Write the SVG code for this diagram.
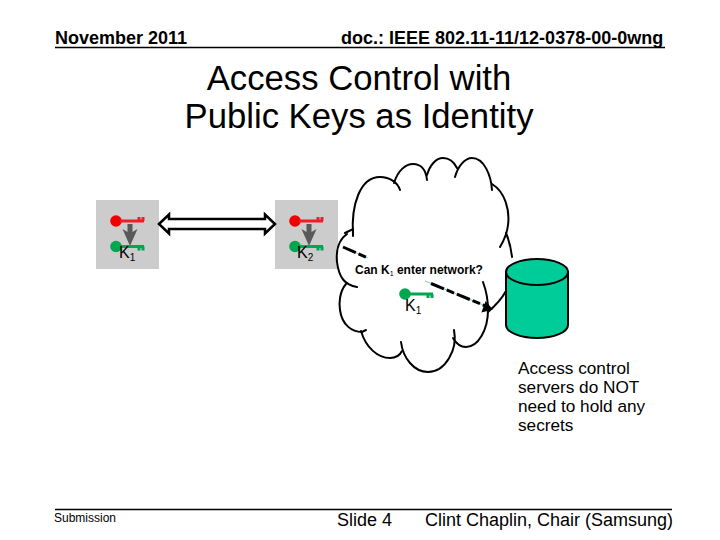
<svg xmlns="http://www.w3.org/2000/svg" width="720" height="540" viewBox="0 0 720 540">
<style>
text{font-family:"Liberation Sans",Arial,sans-serif;fill:#000}
.h{font-size:18px;font-weight:bold}
.t{font-size:34.700px;text-anchor:middle}
.b{font-size:17.200px}
.f{font-size:18px}
.k{font-size:16px}
.s{font-size:10px}
.tile{fill:#cccccc}
.cloud{fill:none;stroke:#000;stroke-width:2;stroke-linecap:round}
.gk{fill:none;stroke:#00a650;stroke-width:3}
.rk{fill:none;stroke:#e8202a;stroke-width:3}
</style>
<defs>
<g id="gkey"><circle cx="0" cy="0" r="5.800" fill="#00a650"/><path class="gk" d="M4,0H28M23,0V4M27,0V4"/></g>
<g id="rkey"><circle cx="0" cy="0" r="5.800" fill="#f00000"/><path class="rk" d="M4,0H28M23,0V-4M27,0V-4"/></g>
<g id="down"><path d="M-2.500,-5H2.500V3L7.500,0L0,17L-7.500,0L-2.500,3Z" fill="#595959"/></g>
</defs>

<g id="header">
<text class="h" x="55" y="43.500">November 2011</text>
<text class="h" x="341" y="43.500">doc.: IEEE 802.11-11/12-0378-00-0wng</text>
<path d="M55,47.500H665" stroke="#000" stroke-width="1.500"/>
</g>
<g id="title">
<text class="t" x="359" y="90">Access Control with</text>
<text class="t" x="359" y="128">Public Keys as Identity</text>
</g>

<g id="tile-k1">
<rect class="tile" x="96" y="200" width="63" height="69"/>
<use href="#rkey" x="116" y="221"/><use href="#down" x="130" y="229"/><use href="#gkey" x="116" y="246.500"/>
<text class="k" x="119" y="258">K<tspan class="s" dy="3">1</tspan></text>
</g>
<g id="tile-k2">
<rect class="tile" x="275" y="200" width="63" height="69"/>
<use href="#rkey" x="295" y="221"/><use href="#down" x="309" y="229"/><use href="#gkey" x="295" y="246.500"/>
<text class="k" x="297" y="258">K<tspan class="s" dy="3">2</tspan></text>
</g>

<g id="cloud">
<path class="cloud" d="M345,233L353,229V236"/>
<path class="cloud" d="M353,235C351,205 360,177 380,177C390,177 398,183 400,190"/>
<path class="cloud" d="M394,183C398,170 406,164 413,164C421,164 426,170 427,180"/>
<path class="cloud" d="M427,175C430,165 436,158 443,158C449,158 454,162 457,168"/>
<path class="cloud" d="M455,177C458,166 465,158 472,158C484,158 491,175 492,190"/>
<path class="cloud" d="M492,184C505,192 510,210 508,225C507,235 503,242 500,247"/>
<path class="cloud" d="M506,233C509,240 511,248 512,257"/>
<path class="cloud" d="M347,234C338,240 336,252 337,262C339,278 345,285 357,287"/>
<path class="cloud" d="M346,284C339,292 339,305 340,310C342,325 352,332 362,332L366,330"/>
<path class="cloud" d="M361,331C366,348 378,358 390,358C396,358 400,355 402,351"/>
<path class="cloud" d="M401,342C403,358 414,372 428,372C445,372 458,350 454,330"/>
<path class="cloud" d="M453,338C457,345 462,347 466,347C478,347 488,330 488,310C488,300 486,290 483,282"/>
<path class="cloud" d="M488,312C495,306 501,300 506,291"/>
</g>

<g id="server">
<path d="M506,272V325A31,13 0 0 0 568,325V272Z" fill="#00cc99" stroke="#000" stroke-width="2"/>
<ellipse cx="537" cy="272" rx="31" ry="13" fill="#00cc99" stroke="#000" stroke-width="2"/>
</g>

<g id="connectors">
<path d="M159,224L169,214.500V219H265V214.500L275,224L265,233.500V229H169V233.500Z" fill="#fff" stroke="#000" stroke-width="2.500"/>
<path d="M343,247L368,258M425,281L488,307" stroke="#7fc8c0" stroke-width="1"/>
<path d="M343,247L368,258M431,283.500L488,307" stroke="#000" stroke-width="3" stroke-dasharray="14 3 8 3"/>
<path d="M491,309L483,311L486,303Z" fill="#000" stroke="#000" stroke-width="2"/>
</g>

<g id="query">
<text x="355" y="274" font-weight="bold" style="font-size:12px">Can K<tspan dy="2" font-weight="normal" style="font-size:7px">1</tspan><tspan dy="-2"> enter network?</tspan></text>
</g>
<g id="key-k1">
<use href="#gkey" x="405" y="294"/>
<text class="k" x="405" y="311">K<tspan class="s" dy="3">1</tspan></text>
</g>

<g id="note">
<text class="b" x="518" y="374">Access control</text>
<text class="b" x="518" y="393">servers do NOT</text>
<text class="b" x="518" y="412">need to hold any</text>
<text class="b" x="518" y="431">secrets</text>
</g>

<g id="footer">
<path d="M55,509.500H672" stroke="#000" stroke-width="1.500"/>
<text x="54" y="522" font-size="12">Submission</text>
<text class="f" x="337" y="526">Slide 4</text>
<text class="f" x="425" y="526">Clint Chaplin, Chair (Samsung)</text>
</g>
</svg>
